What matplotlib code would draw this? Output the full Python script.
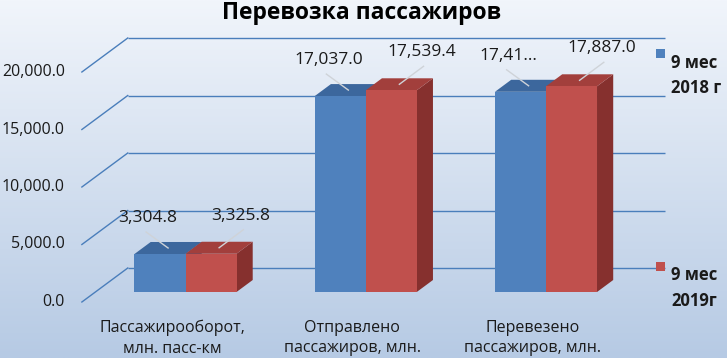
import numpy as np
import matplotlib
matplotlib.use("Agg")
import matplotlib.pyplot as plt
from matplotlib.patches import Polygon, Rectangle

# ---------------- data ----------------
categories = ["Пассажирооборот,\nмлн. пасс-км", "Отправлено\nпассажиров, млн.", "Перевезено\nпассажиров, млн."]
series_names = ["9 мес\n2018 г", "9 мес\n2019г"]
values_2018 = [3304.8, 17037.0, 17410.0]
values_2019 = [3325.8, 17539.4, 17887.0]
truncated_2018 = [False, False, True]   # label shown as "17,41…" in the original
y_ticks = [0, 5000, 10000, 15000, 20000]

# ---------------- styles ----------------
FONT = "Open Sans"
plt.rcParams["font.family"] = [FONT, "DejaVu Sans"]
W, H, DPI = 7.27, 3.58, 100
PX_X = 180.25          # px per category unit
PX_Y = 0.0115          # px per value unit
ZERO_X_PX, ZERO_Y_PX = 185.5, 292.0
SLOPE = 1.35           # horizontal px per vertical px of depth
BAR_W = 0.283
BAR_DEPTH = 12
WALL_DEPTH = 24
FRONT_DEPTH = -10
GRID_C = "#4a7ebb"
colors = {
    0: dict(front="#4f81bd", top="#3c679d", side="#345a8a"),
    1: dict(front="#c0504d", top="#a23f3c", side="#86302e"),
}
TXT = "#1a1a1a"

fig = plt.figure(figsize=(W, H), dpi=DPI)

# background gradient
bg = fig.add_axes([0, 0, 1, 1], zorder=0)
grad = np.linspace(0, 1, 256)[:, None]
c_top = np.array([241, 245, 251]) / 255
c_bot = np.array([182, 202, 228]) / 255
img = c_top[None, None, :] * (1 - grad[..., None]) + c_bot[None, None, :] * grad[..., None]
img = np.repeat(img, 2, axis=1)
bg.imshow(img, aspect="auto", extent=[0, 1, 0, 1], origin="upper")
bg.set_axis_off()

ax = fig.add_axes([0, 0, 1, 1], zorder=1)
ax.patch.set_alpha(0)
x0 = -ZERO_X_PX / PX_X
y0 = -(H * DPI - ZERO_Y_PX) / PX_Y
ax.set_xlim(x0, x0 + W * DPI / PX_X)
ax.set_ylim(y0, y0 + H * DPI / PX_Y)
ax.set_axis_off()


def shift(x, y, depth):
    return x + depth * SLOPE / PX_X, y + depth / PX_Y


WALL_L, WALL_R = -0.5, 2.48

# gridlines: back wall + side diagonals
for v in y_ticks:
    bx0, by = shift(WALL_L, v, WALL_DEPTH)
    bx1, _ = shift(WALL_R, v, WALL_DEPTH)
    fx, fy = shift(WALL_L, v, FRONT_DEPTH)
    ax.plot([bx0, bx1], [by, by], color=GRID_C, lw=1.0, zorder=1, solid_capstyle="butt")
    ax.plot([fx, bx0], [fy, by], color=GRID_C, lw=1.0, zorder=1)
    tx, ty = fx - 17 / PX_X, fy
    ax.text(tx, ty, f"{v:,.1f}", ha="right", va="center", fontsize=11.5, color=TXT)

# category labels
for i, cat in enumerate(categories):
    cx, cy = shift(i, 0, FRONT_DEPTH)
    ax.text(cx, cy - 18 / PX_Y, cat, ha="center", va="top", fontsize=11.5,
            color=TXT, linespacing=1.35)

x = np.arange(len(categories))
series = [values_2018, values_2019]
label_off = {0: (-20, 30), 1: (22, 32)}
z = 3
for i in range(len(categories)):
    for s, vals in enumerate(series):
        h = vals[i]
        xl = x[i] + (s - 1) * BAR_W
        xr = xl + BAR_W
        c = colors[s]
        # side face
        side = [(xr, 0), (xr, h), shift(xr, h, BAR_DEPTH), shift(xr, 0, BAR_DEPTH)]
        ax.add_patch(Polygon(side, closed=True, fc=c["side"], ec="none", zorder=z))
        # top face
        top = [(xl, h), (xr, h), shift(xr, h, BAR_DEPTH), shift(xl, h, BAR_DEPTH)]
        ax.add_patch(Polygon(top, closed=True, fc=c["top"], ec="none", zorder=z))
        # front face
        ax.bar(xl, h, width=BAR_W, align="edge", color=c["front"], zorder=z + 0.5,
               linewidth=0)
        z += 1
        # label + leader
        tcx, tcy = shift((xl + xr) / 2, h, BAR_DEPTH / 2)
        dx, dy = label_off[s]
        lx, ly = tcx + dx / PX_X, tcy + dy / PX_Y
        txt = f"{h:,.1f}"
        if s == 0 and truncated_2018[i]:
            txt = txt[:5] + "…"
        ax.text(lx, ly, txt, ha="center", va="center", fontsize=12.5, color=TXT, zorder=20)
        ax.plot([lx + dx * 0.1 / PX_X, tcx], [ly - 14 / PX_Y, tcy], color="#cfd3d8",
                lw=1.0, zorder=20)
    z += 1

# legend
for s, name in enumerate(series_names):
    ytop = [49, 262][s]
    fig.patches.append(Rectangle((656 / (W * DPI), 1 - (ytop + 9) / (H * DPI)),
                                 9 / (W * DPI), 9 / (H * DPI),
                                 transform=fig.transFigure, fc=colors[s]["front"],
                                 ec="none", zorder=5))
    fig.text(671 / (W * DPI), 1 - (ytop + 4.5) / (H * DPI), name, ha="left", va="top",
             fontsize=12, fontweight="bold", color=TXT, linespacing=1.55,
             transform=fig.transFigure)

fig.text(362 / (W * DPI), 1 - 19 / (H * DPI), "Перевозка пассажиров", ha="center",
         va="baseline", fontsize=16.5, fontweight="bold", color="black")

fig.savefig("out.png", dpi=DPI)
